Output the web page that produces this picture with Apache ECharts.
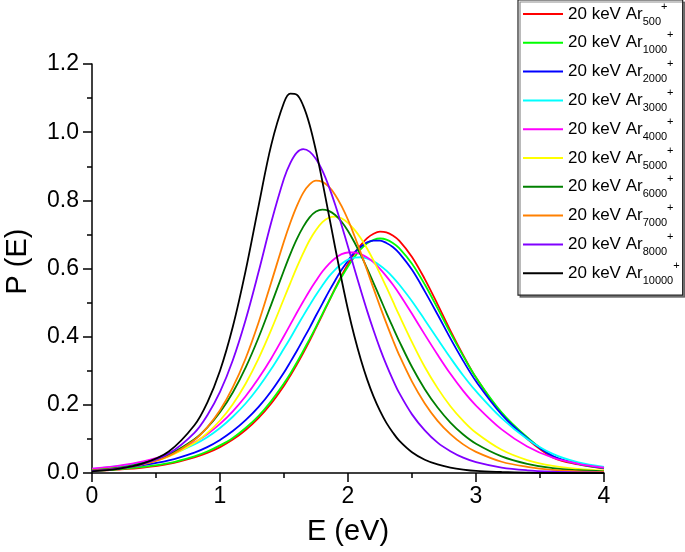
<!DOCTYPE html>
<html><head><meta charset="utf-8">
<script src="https://cdn.jsdelivr.net/npm/echarts@6/dist/echarts.min.js"></script>
<style>html,body{margin:0;padding:0;background:#fff;}#c{width:685px;height:552px;}</style>
</head><body><div id="c"></div>
<script>
// Energy grid (eV)
var energies = [0,0.2,0.4,0.6,0.8,0.9,1.0,1.1,1.2,1.3,1.4,1.5,1.55,1.6,1.65,1.7,1.75,1.8,1.85,1.9,1.95,2.0,2.05,2.1,2.15,2.2,2.25,2.3,2.35,2.4,2.5,2.6,2.7,2.8,2.9,3.0,3.2,3.4,3.6,3.8,4.0];
// P(E) values
var pAr500   = [0.006,0.010,0.016,0.027,0.046,0.059,0.076,0.098,0.126,0.161,0.204,0.256,0.286,0.318,0.352,0.388,0.426,0.464,0.503,0.542,0.579,0.613,0.644,0.669,0.689,0.702,0.708,0.706,0.697,0.682,0.634,0.569,0.495,0.418,0.346,0.280,0.174,0.100,0.046,0.025,0.013];
var pAr1000  = [0.006,0.011,0.018,0.029,0.049,0.063,0.081,0.103,0.132,0.167,0.211,0.263,0.292,0.324,0.358,0.393,0.429,0.467,0.504,0.540,0.575,0.606,0.634,0.657,0.674,0.684,0.688,0.685,0.675,0.660,0.614,0.553,0.483,0.411,0.343,0.280,0.178,0.105,0.049,0.026,0.014];
var pAr2000  = [0.008,0.014,0.023,0.037,0.060,0.076,0.097,0.123,0.155,0.193,0.240,0.295,0.326,0.358,0.392,0.426,0.462,0.497,0.532,0.565,0.596,0.623,0.647,0.664,0.677,0.682,0.682,0.675,0.663,0.645,0.596,0.533,0.465,0.395,0.329,0.269,0.172,0.102,0.050,0.027,0.015];
var pAr3000  = [0.012,0.020,0.032,0.052,0.084,0.105,0.132,0.165,0.204,0.251,0.305,0.365,0.396,0.429,0.461,0.492,0.522,0.550,0.576,0.597,0.614,0.626,0.632,0.633,0.629,0.621,0.609,0.594,0.575,0.553,0.504,0.449,0.393,0.338,0.286,0.240,0.161,0.100,0.056,0.031,0.018];
var pAr4000  = [0.013,0.021,0.034,0.056,0.090,0.114,0.144,0.181,0.225,0.277,0.336,0.402,0.436,0.470,0.503,0.535,0.564,0.591,0.613,0.630,0.642,0.647,0.647,0.642,0.632,0.618,0.599,0.577,0.553,0.526,0.467,0.406,0.347,0.291,0.241,0.198,0.128,0.078,0.045,0.027,0.016];
var pAr5000  = [0.008,0.015,0.027,0.049,0.088,0.117,0.154,0.202,0.262,0.335,0.420,0.512,0.558,0.603,0.645,0.683,0.713,0.736,0.749,0.752,0.747,0.734,0.714,0.689,0.658,0.623,0.585,0.545,0.504,0.463,0.384,0.311,0.249,0.196,0.153,0.118,0.068,0.038,0.021,0.012,0.007];
var pAr6000  = [0.008,0.015,0.029,0.054,0.099,0.133,0.178,0.236,0.309,0.396,0.494,0.595,0.643,0.686,0.722,0.750,0.767,0.773,0.769,0.757,0.737,0.710,0.677,0.640,0.600,0.557,0.514,0.470,0.428,0.387,0.311,0.246,0.192,0.148,0.113,0.086,0.049,0.027,0.014,0.008,0.005];
var pAr7000  = [0.007,0.013,0.025,0.050,0.097,0.134,0.184,0.251,0.336,0.440,0.559,0.680,0.735,0.783,0.822,0.847,0.858,0.854,0.840,0.816,0.783,0.743,0.696,0.646,0.594,0.541,0.489,0.439,0.391,0.346,0.268,0.204,0.153,0.114,0.084,0.062,0.033,0.018,0.009,0.005,0.003];
var pAr8000  = [0.006,0.013,0.027,0.057,0.118,0.169,0.238,0.331,0.449,0.588,0.735,0.864,0.910,0.940,0.950,0.943,0.921,0.887,0.841,0.787,0.727,0.664,0.599,0.536,0.475,0.418,0.365,0.317,0.274,0.235,0.172,0.125,0.089,0.064,0.045,0.032,0.016,0.008,0.004,0.002,0.001];
var pAr10000 = [0.005,0.012,0.028,0.063,0.140,0.206,0.300,0.429,0.593,0.781,0.962,1.087,1.113,1.110,1.078,1.022,0.945,0.855,0.758,0.661,0.567,0.479,0.401,0.333,0.274,0.224,0.182,0.147,0.119,0.095,0.061,0.039,0.025,0.016,0.010,0.006,0.003,0.001,0.000,0.000,0.000];

var clusterSizes = ['500','1000','2000','3000','4000','5000','6000','7000','8000','10000'];
var seriesValues = [pAr500,pAr1000,pAr2000,pAr3000,pAr4000,pAr5000,pAr6000,pAr7000,pAr8000,pAr10000];
var colors = ['#ff0000','#00ff00','#0000ff','#00ffff','#ff00ff','#ffff00','#008000','#ff8000','#8000ff','#000000'];
var yTicks = [0,0.2,0.4,0.6,0.8,1.0,1.2];
var xTicks = [0,1,2,3,4];

var FONT = '"Liberation Sans", Arial, sans-serif';
var chart = echarts.init(document.getElementById('c'), null, {renderer:'canvas'});

var series = clusterSizes.map(function(n, i){
  return {
    name: n, type: 'line', smooth: 0.35, symbol: 'none', showSymbol: false,
    data: energies.map(function(e, k){ return [e, seriesValues[i][k]]; }),
    lineStyle: {width: 1.8, color: colors[i]},
    itemStyle: {color: colors[i]},
    z: 2 + i
  };
});

chart.setOption({
  animation: false,
  color: colors,
  grid: {left: 92, right: 81, top: 64, bottom: 79, containLabel: false, outerBoundsMode: 'none'},
  legend: {
    orient: 'vertical', left: 518, top: 0,
    icon: 'rect', itemWidth: 40, itemHeight: 2, itemGap: 2.8,
    padding: [1, 3, 9, 5],
    borderColor: '#222', borderWidth: 1.2, backgroundColor: '#fff',
    shadowColor: 'rgba(0,0,0,0.45)', shadowOffsetX: 2, shadowOffsetY: 2, shadowBlur: 0,
    data: clusterSizes,
    formatter: function(n){ return '{a|20 keV Ar}{sub|' + n + '}{sup|+}'; },
    textStyle: {
      color: '#000', fontFamily: FONT, fontSize: 17,
      rich: {
        a: {fontSize: 17, fontFamily: FONT, color: '#000', lineHeight: 26, verticalAlign: 'middle'},
        sub: {fontSize: 11, fontFamily: FONT, color: '#000', lineHeight: 10, verticalAlign: 'bottom'},
        sup: {fontSize: 11, fontFamily: FONT, color: '#000', lineHeight: 10, verticalAlign: 'top'}
      }
    }
  },
  xAxis: {
    type: 'value', min: xTicks[0], max: xTicks[xTicks.length-1], interval: 1,
    name: 'E (eV)', nameLocation: 'middle', nameGap: 44,
    nameTextStyle: {fontSize: 29, fontFamily: FONT, color: '#000'},
    axisLine: {show: true, onZero: false, lineStyle: {color: '#000', width: 1.5}},
    axisTick: {show: true, inside: false, length: 9, lineStyle: {color: '#000', width: 1.5}},
    minorTick: {show: true, splitNumber: 2, length: 5, lineStyle: {color: '#000', width: 1.5}},
    axisLabel: {fontSize: 23, fontFamily: FONT, color: '#000', margin: 12},
    splitLine: {show: false}
  },
  yAxis: {
    type: 'value', min: yTicks[0], max: yTicks[yTicks.length-1], interval: 0.2,
    name: 'P (E)', nameLocation: 'middle', nameGap: 60,
    nameTextStyle: {fontSize: 29, fontFamily: FONT, color: '#000', padding: [0,0,0,14]},
    axisLine: {show: true, onZero: false, lineStyle: {color: '#000', width: 1.5}},
    axisTick: {show: true, inside: false, length: 9, lineStyle: {color: '#000', width: 1.5}},
    minorTick: {show: true, splitNumber: 2, length: 5, lineStyle: {color: '#000', width: 1.5}},
    axisLabel: {fontSize: 23, fontFamily: FONT, color: '#000', margin: 13,
      formatter: function(v){ return v.toFixed(1); }},
    splitLine: {show: false}
  },
  series: series
});
</script></body></html>
